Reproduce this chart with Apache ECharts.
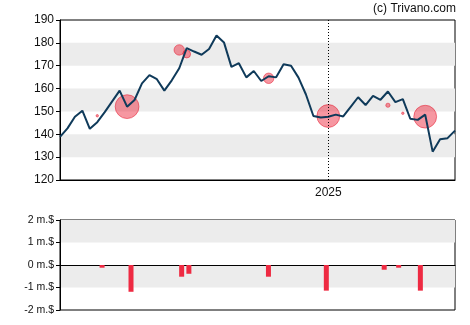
<!DOCTYPE html>
<html>
<head>
<meta charset="utf-8">
<script src="https://cdn.jsdelivr.net/npm/echarts@6/dist/echarts.min.js"></script>
<style>
  html, body { margin: 0; padding: 0; background: #fff; }
  #chart { width: 470px; height: 325px; }
</style>
</head>
<body>
<div id="chart"></div>
<script>
// Weekly closing prices
const weekDates = [
  '2024-04-24','2024-05-01','2024-05-08','2024-05-15','2024-05-22','2024-05-29',
  '2024-06-05','2024-06-12','2024-06-19','2024-06-26','2024-07-03','2024-07-10',
  '2024-07-17','2024-07-24','2024-07-31','2024-08-07','2024-08-14','2024-08-21',
  '2024-08-28','2024-09-04','2024-09-11','2024-09-18','2024-09-25','2024-10-02',
  '2024-10-09','2024-10-16','2024-10-23','2024-10-30','2024-11-06','2024-11-13',
  '2024-11-20','2024-11-27','2024-12-04','2024-12-11','2024-12-18','2024-12-25',
  '2025-01-01','2025-01-08','2025-01-15','2025-01-22','2025-01-29','2025-02-05',
  '2025-02-12','2025-02-19','2025-02-26','2025-03-05','2025-03-12','2025-03-19',
  '2025-03-26','2025-04-02','2025-04-09','2025-04-16','2025-04-23','2025-04-30'
];
const closePrices = [
  138.9, 142.6, 147.7, 150.3, 142.4, 145.3,
  149.7, 154.4, 159.1, 152.1, 155.0, 162.3,
  165.9, 164.1, 159.1, 163.6, 168.9, 177.7,
  176.2, 174.8, 177.3, 183.2, 180.2, 169.5,
  171.1, 164.9, 167.7, 163.3, 165.4, 164.9,
  170.6, 170.0, 164.8, 157.4, 148.0, 147.3,
  147.7, 148.6, 147.8, 152.0, 156.2, 152.8,
  156.8, 155.1, 158.7, 154.1, 155.4, 146.8,
  146.3, 148.6, 132.4, 137.8, 138.3, 141.6
];

// Insider transactions: date, price, net amount (million $)
const tradeDates   = ['2024-05-29','2024-06-26','2024-08-14','2024-08-21','2024-11-06',
                      '2025-01-01','2025-02-26','2025-03-12','2025-04-02'];
const tradePrices  = [148.1, 152.1, 176.9, 175.1, 164.5, 148.0, 152.7, 149.2, 147.7];
const tradeAmounts = [-0.12, -1.19, -0.52, -0.39, -0.52, -1.14, -0.21, -0.12, -1.14];

// Axis labels
const yearMarks = ['2025-01-01'];
const priceTicks = { min: 120, max: 190, step: 10 };
const flowTicks = { min: -2, max: 2, step: 1 };
const flowUnit = ' m.$';
const creditText = '(c) Trivano.com';

const FONT = '"Liberation Sans", Arial, Helvetica, sans-serif';
const TXT = '#111';
const BAND = '#ececec';
const DAY = 86400000;

const priceData = weekDates.map((d, i) => [d, closePrices[i]]);
const tradeData = tradeDates.map((d, i) => [d, tradePrices[i], tradeAmounts[i]]);
const flowData = tradeDates.map((d, i) => [d, tradeAmounts[i]]);

const t0 = new Date(weekDates[0] + 'T00:00:00').getTime();
const t1 = new Date(weekDates[weekDates.length - 1] + 'T00:00:00').getTime();

const chart = echarts.init(document.getElementById('chart'), null, { renderer: 'canvas' });

chart.setOption({
  animation: false,
  backgroundColor: '#fff',
  textStyle: { fontFamily: FONT },
  graphic: [{
    type: 'text',
    right: 14,
    top: 3,
    style: { text: creditText, font: '12px ' + FONT, fill: TXT }
  }],
  grid: [
    { left: 60, right: 15, top: 20, height: 160, show: true, borderColor: '#000', borderWidth: 1 },
    { left: 60, right: 15, top: 220, height: 90, show: true, borderColor: '#000', borderWidth: 1 }
  ],
  xAxis: [
    {
      type: 'time', gridIndex: 0, min: t0, max: t1,
      axisLine: { show: true, lineStyle: { color: '#000', width: 1 } },
      axisTick: { show: false },
      splitLine: { show: false },
      axisLabel: {
        color: TXT, fontSize: 12, fontFamily: FONT, margin: 7,
        hideOverlap: false,
        formatter: function (v) {
          const d = new Date(v);
          const key = d.getFullYear() + '-' + String(d.getMonth() + 1).padStart(2, '0') + '-' + String(d.getDate()).padStart(2, '0');
          return yearMarks.indexOf(key) >= 0 ? String(d.getFullYear()) : '';
        }
      }
    },
    {
      type: 'time', gridIndex: 1, min: t0 - 3.3 * DAY, max: t1 + 3.1 * DAY,
      axisLine: { show: true, onZero: true, lineStyle: { color: '#000', width: 1 } },
      axisTick: { show: false },
      axisLabel: { show: false },
      splitLine: { show: false }
    }
  ],
  yAxis: [
    {
      type: 'value', gridIndex: 0, min: priceTicks.min, max: priceTicks.max, interval: priceTicks.step,
      axisLine: { show: true, lineStyle: { color: '#000', width: 1 } },
      axisTick: { show: true, length: 4, lineStyle: { color: '#000' } },
      axisLabel: { color: TXT, fontSize: 12, fontFamily: FONT, margin: 6 },
      splitLine: { show: false },
      splitArea: { show: true, areaStyle: { color: ['rgba(255,255,255,0)', BAND] } }
    },
    {
      type: 'value', gridIndex: 1, min: flowTicks.min, max: flowTicks.max, interval: flowTicks.step,
      axisLine: { show: true, lineStyle: { color: '#000', width: 1 } },
      axisTick: { show: true, length: 4, lineStyle: { color: '#000' } },
      axisLabel: { color: TXT, fontSize: 10.5, fontFamily: FONT, margin: 6,
        formatter: v => v + flowUnit },
      splitLine: { show: false },
      splitArea: { show: true, areaStyle: { color: ['rgba(255,255,255,0)', BAND] } }
    }
  ],
  series: [
    {
      type: 'scatter', xAxisIndex: 0, yAxisIndex: 0, z: 2,
      data: tradeData,
      symbol: 'circle',
      symbolSize: v => Math.abs(v[2]) * 20,
      itemStyle: { color: 'rgba(236,30,52,0.58)', borderColor: 'rgba(230,30,50,0.85)', borderWidth: 0.8 }
    },
    {
      type: 'line', xAxisIndex: 0, yAxisIndex: 0, z: 3,
      data: priceData,
      showSymbol: false,
      lineStyle: { color: '#0f3a5a', width: 2 },
      markLine: {
        silent: true, symbol: 'none',
        label: { show: false },
        lineStyle: { color: '#000', type: [1, 2], width: 1 },
        data: yearMarks.map(d => ({ xAxis: d }))
      }
    },
    {
      type: 'bar', xAxisIndex: 1, yAxisIndex: 1,
      data: flowData,
      barWidth: 5,
      itemStyle: { color: '#ee2a42' }
    }
  ]
});
</script>
</body>
</html>
